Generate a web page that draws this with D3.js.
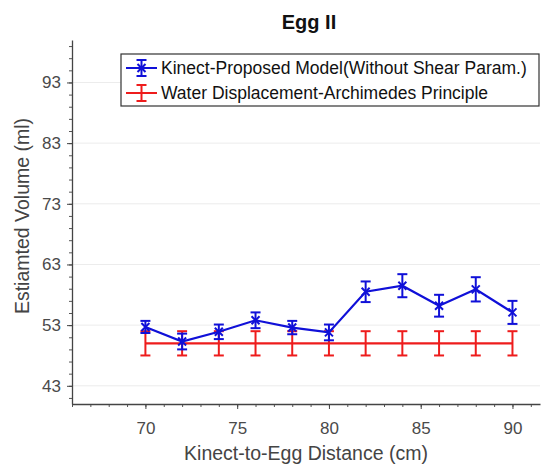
<!DOCTYPE html>
<html>
<head>
<meta charset="utf-8">
<script src="https://cdn.jsdelivr.net/npm/d3@7"></script>
<style>
  body { margin: 0; background: #fff; }
  text { font-family: "Liberation Sans", Arial, sans-serif; }
</style>
</head>
<body>
<svg id="chart" width="542" height="468"></svg>
<script>
// data
const distances = [70, 72, 74, 76, 78, 80, 82, 84, 86, 88, 90];
const kinectVolume = [52.7, 50.3, 51.9, 53.8, 52.6, 51.8, 58.5, 59.5, 56.2, 58.9, 55.1];
const kinectError = [1.0, 1.3, 1.2, 1.3, 1.1, 1.3, 1.7, 1.9, 1.8, 2.0, 1.9];
const waterVolume = [50, 50, 50, 50, 50, 50, 50, 50, 50, 50, 50];
const waterError = [2, 2, 2, 2, 2, 2, 2, 2, 2, 2, 2];
const yTicks = [43, 53, 63, 73, 83, 93];
const xTicks = [70, 75, 80, 85, 90];
const legendLabels = ["Kinect-Proposed Model(Without Shear Param.)", "Water Displacement-Archimedes Principle"];

const svg = d3.select("svg#chart");

//plot area
const area = { left: 72, right: 540, top: 40, bottom: 404 };

//scales
const xScale = d3.scaleLinear().domain([66, 91.5]).range([area.left, area.right]);
const yScale = d3.scaleLinear().domain([40, 100]).range([area.bottom, area.top]);

//grid
svg.append("g")
  .selectAll("line")
  .data(yTicks)
  .join("line")
  .attr("x1", area.left)
  .attr("x2", area.right)
  .attr("y1", d => yScale(d))
  .attr("y2", d => yScale(d))
  .attr("stroke", "#ececec")
  .attr("stroke-width", 1);

//minor ticks
const xMinor = d3.range(66, 92, 1);
const yMinor = d3.range(41, 100, 2);
svg.append("g")
  .attr("transform", `translate(0, ${area.bottom})`)
  .call(d3.axisBottom(xScale).tickValues(xMinor).tickSize(3).tickFormat(""))
  .call(g => g.select(".domain").remove())
  .selectAll("line").attr("stroke", "#555");
svg.append("g")
  .attr("transform", `translate(${area.left}, 0)`)
  .call(d3.axisLeft(yScale).tickValues(yMinor).tickSize(3).tickFormat(""))
  .call(g => g.select(".domain").remove())
  .selectAll("line").attr("stroke", "#555");

//axes
const xAxis = svg.append("g")
  .attr("transform", `translate(0, ${area.bottom})`)
  .call(d3.axisBottom(xScale).tickValues(xTicks).tickSize(5).tickSizeOuter(0).tickPadding(13));
const yAxis = svg.append("g")
  .attr("transform", `translate(${area.left}, 0)`)
  .call(d3.axisLeft(yScale).tickValues(yTicks).tickSize(5).tickSizeOuter(0).tickPadding(6));
[xAxis, yAxis].forEach(ax => {
  ax.select(".domain").attr("stroke", "#444").attr("stroke-width", 1.3);
  ax.selectAll(".tick line").attr("stroke", "#444");
  ax.selectAll(".tick text")
    .attr("fill", "#4a4a4a")
    .attr("font-size", 17)
    .attr("font-family", "Liberation Sans, Arial, sans-serif");
});

//error bar series
const drawSeries = (values, errors, color, withMarker) => {
  const g = svg.append("g");
  const cap = 5;
  const bars = g.selectAll("g.bar")
    .data(distances.map((d, i) => ({ x: d, y: values[i], e: errors[i] })))
    .join("g");
  bars.append("line")
    .attr("x1", d => xScale(d.x)).attr("x2", d => xScale(d.x))
    .attr("y1", d => yScale(d.y - d.e)).attr("y2", d => yScale(d.y + d.e))
    .attr("stroke", color).attr("stroke-width", 2);
  [-1, 1].forEach(s => {
    bars.append("line")
      .attr("x1", d => xScale(d.x) - cap).attr("x2", d => xScale(d.x) + cap)
      .attr("y1", d => yScale(d.y + s * d.e)).attr("y2", d => yScale(d.y + s * d.e))
      .attr("stroke", color).attr("stroke-width", 2);
  });
  const lineGenerator = d3.line().x((d, i) => xScale(distances[i])).y(d => yScale(d));
  g.append("path")
    .attr("d", lineGenerator(values))
    .attr("fill", "none")
    .attr("stroke", color)
    .attr("stroke-width", 2.2);
  if (withMarker) {
    const m = 4;
    bars.append("path")
      .attr("d", d => {
        const cx = xScale(d.x), cy = yScale(d.y);
        return `M${cx - m},${cy - m}L${cx + m},${cy + m}M${cx - m},${cy + m}L${cx + m},${cy - m}`;
      })
      .attr("stroke", color).attr("stroke-width", 2);
  }
};
drawSeries(waterVolume, waterError, "#ee1c1c", false);
drawSeries(kinectVolume, kinectError, "#1010d8", true);

//legend
const legend = svg.append("g").attr("transform", "translate(121, 54)");
legend.append("rect")
  .attr("width", 418).attr("height", 52)
  .attr("fill", "#fff").attr("stroke", "#333").attr("stroke-width", 1.2);
const legendColors = ["#1010d8", "#ee1c1c"];
legendLabels.forEach((label, i) => {
  const cy = 14 + i * 25;
  const color = legendColors[i];
  const row = legend.append("g");
  row.append("line").attr("x1", 5).attr("x2", 36).attr("y1", cy).attr("y2", cy)
    .attr("stroke", color).attr("stroke-width", 2);
  row.append("line").attr("x1", 20.5).attr("x2", 20.5).attr("y1", cy - 8).attr("y2", cy + 8)
    .attr("stroke", color).attr("stroke-width", 2);
  [-8, 8].forEach(o => row.append("line").attr("x1", 15.5).attr("x2", 25.5)
    .attr("y1", cy + o).attr("y2", cy + o).attr("stroke", color).attr("stroke-width", 2));
  if (i === 0) {
    row.append("path")
      .attr("d", `M16.5,${cy - 4}L24.5,${cy + 4}M16.5,${cy + 4}L24.5,${cy - 4}`)
      .attr("stroke", color).attr("stroke-width", 2);
  }
  row.append("text").attr("x", 40).attr("y", cy + 6)
    .attr("font-size", 17.5).attr("fill", "#111").text(label);
});

//title and labels
svg.append("text")
  .attr("x", 309).attr("y", 29)
  .attr("text-anchor", "middle")
  .attr("font-size", 20).attr("font-weight", "bold").attr("fill", "#111")
  .text("Egg II");
svg.append("text")
  .attr("x", 306).attr("y", 460)
  .attr("text-anchor", "middle")
  .attr("font-size", 19.5).attr("fill", "#444")
  .text("Kinect-to-Egg Distance (cm)");
svg.append("text")
  .attr("transform", "translate(29, 216) rotate(-90)")
  .attr("text-anchor", "middle")
  .attr("font-size", 19.5).attr("fill", "#444")
  .text("Estiamted Volume (ml)");
</script>
</body>
</html>
